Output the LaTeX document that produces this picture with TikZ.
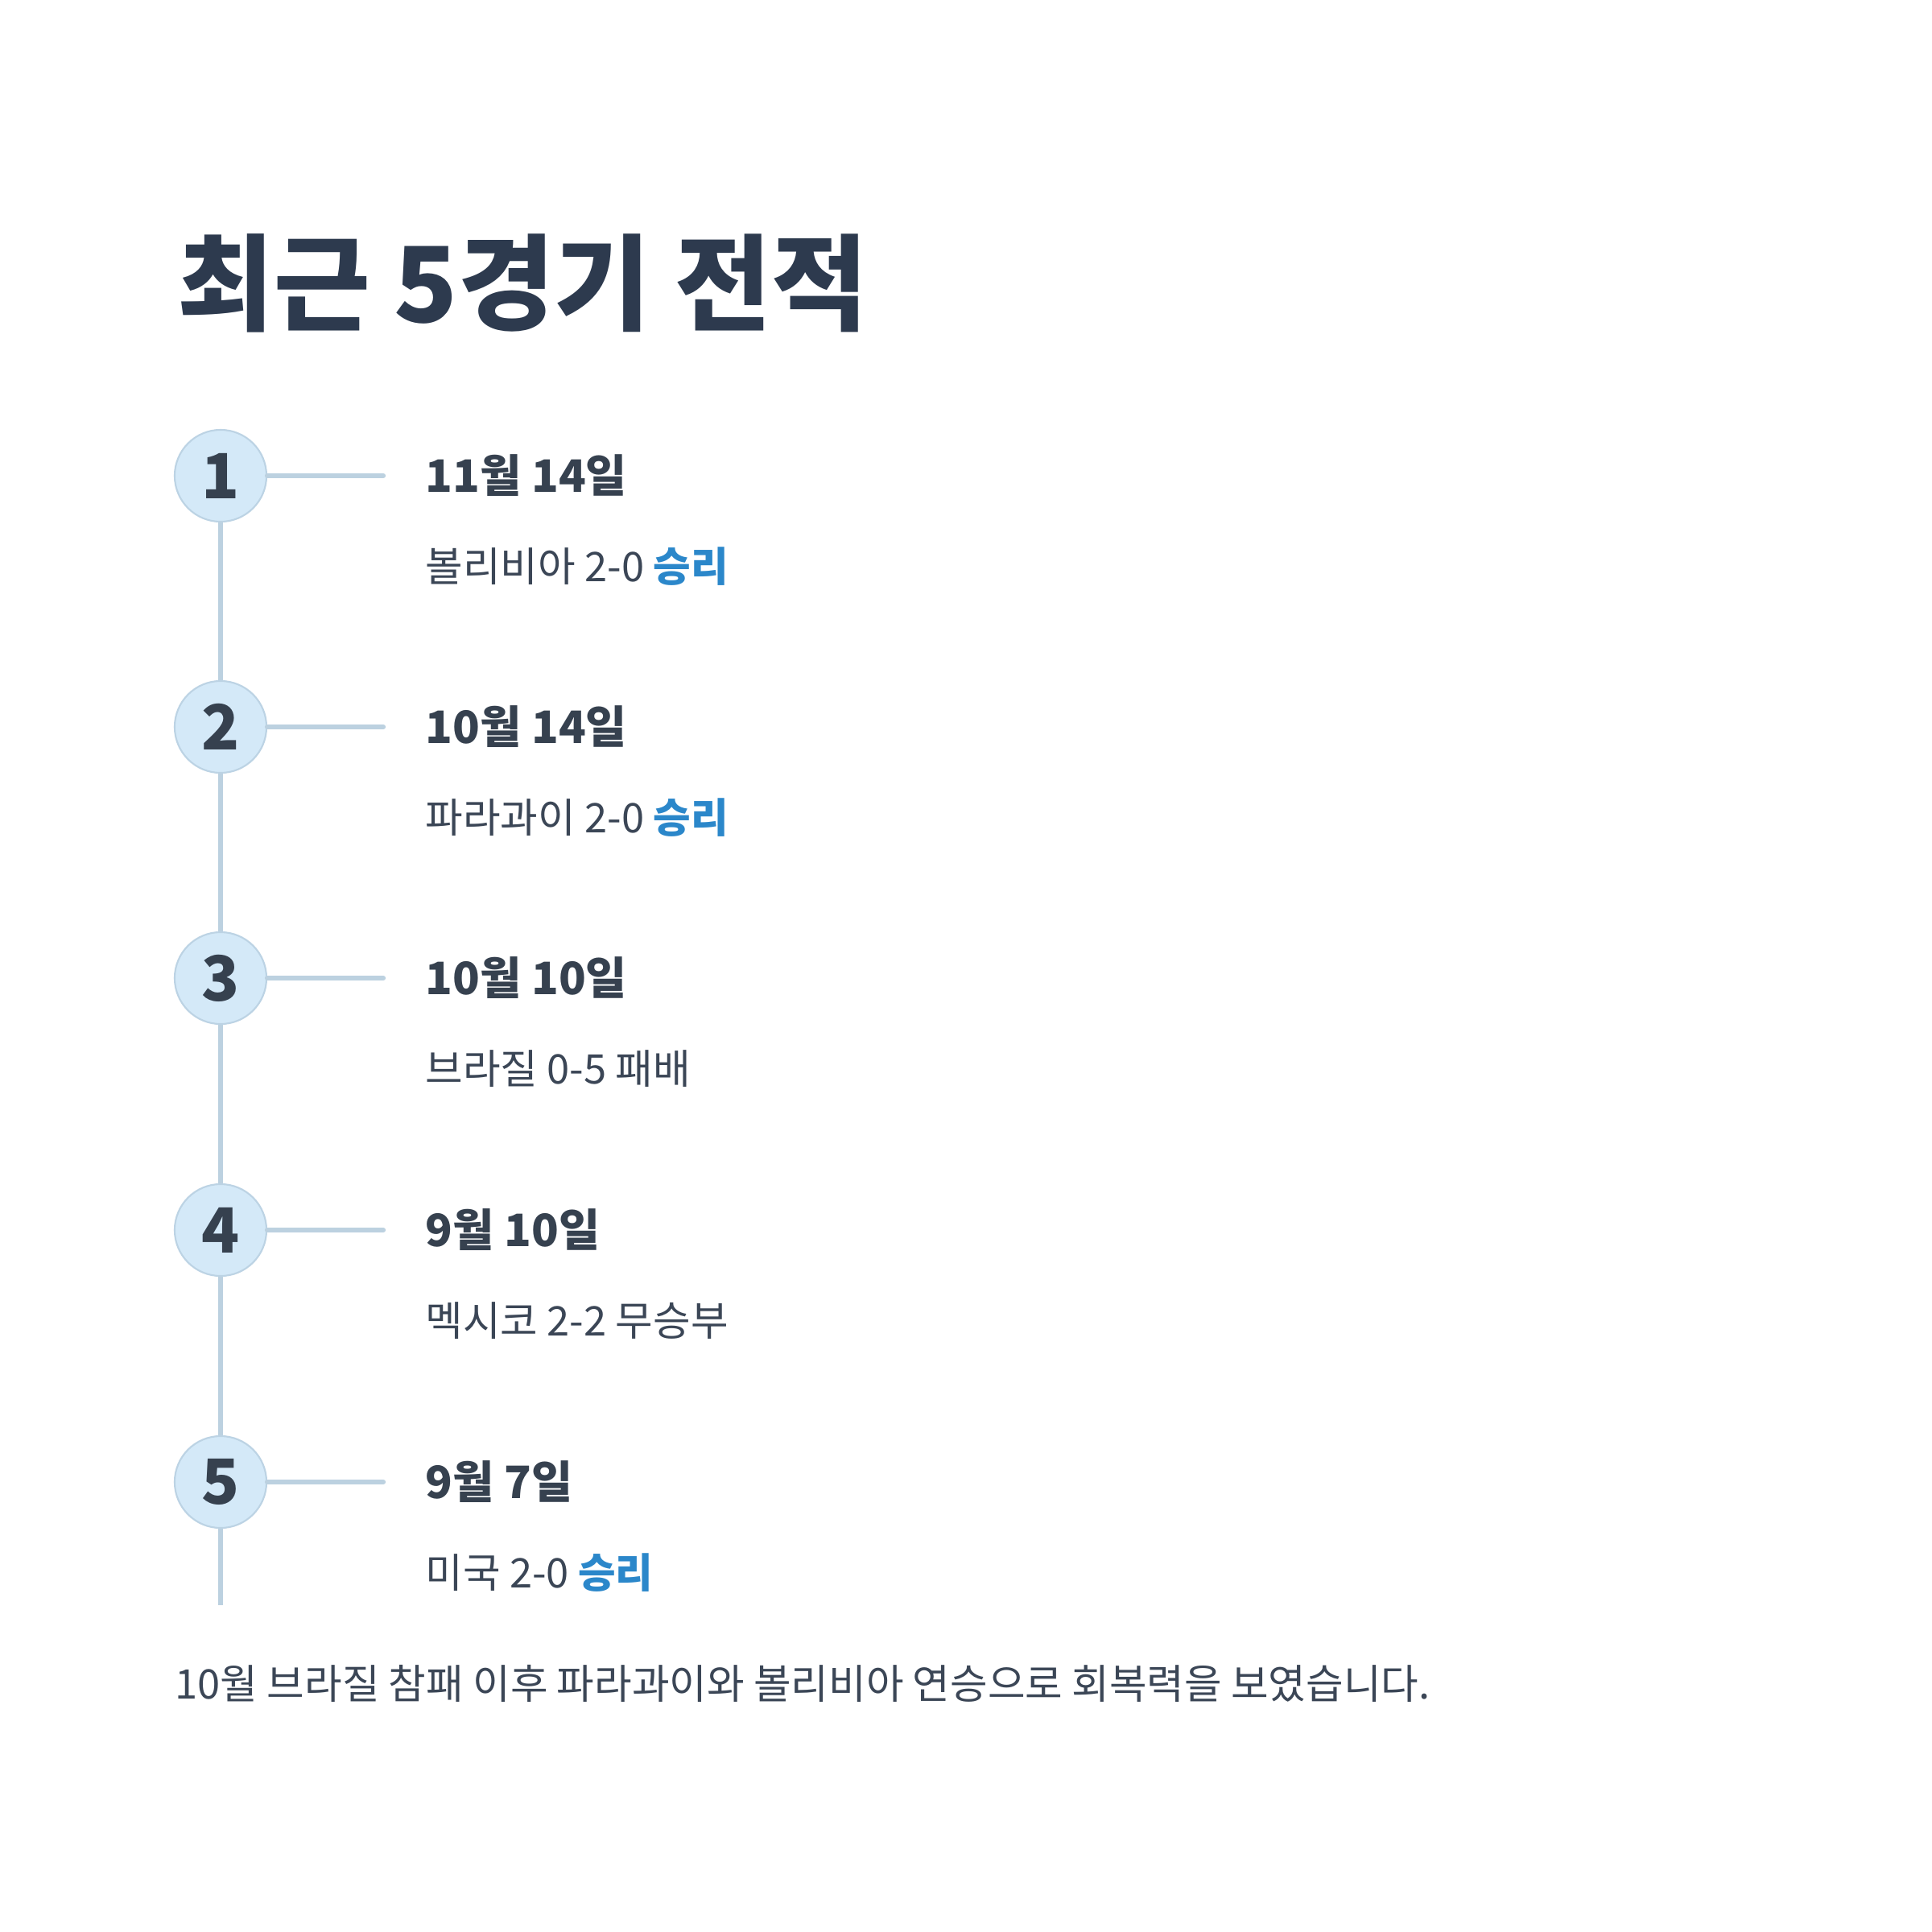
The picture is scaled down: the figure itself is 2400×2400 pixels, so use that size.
\documentclass[tikz,border=0pt]{standalone}
\usepackage{fontspec}
\setmainfont{Noto Sans CJK KR}
\usetikzlibrary{positioning}

\definecolor{titleink}{HTML}{2D3A4E}
\definecolor{dateink}{HTML}{36414F}
\definecolor{bodyink}{HTML}{3B4656}
\definecolor{winblue}{HTML}{2B87CA}
\definecolor{ringfill}{HTML}{D4E9F8}
\definecolor{ringline}{HTML}{BCD3E4}
\definecolor{railline}{HTML}{BCD1E0}

\begin{document}
\begin{tikzpicture}[
        x=0.01cm, y=-0.01cm,
        num/.style={circle, draw=ringline, line width=0.6pt, fill=ringfill,
          minimum size=1.14cm, inner sep=0pt, text=dateink,
          font=\fontsize{22}{24}\selectfont\bfseries},
        datetxt/.style={anchor=west, inner sep=0pt, text=dateink,
          font=\fontsize{15.8}{18}\selectfont\bfseries},
        restxt/.style={anchor=west, inner sep=0pt, text=bodyink,
          font=\fontsize{14.4}{16}\selectfont},
        link/.style={railline, line width=1.8pt, line cap=round},
        rail/.style={railline, line width=1.5pt}]

  \useasboundingbox[fill=white] (0,0) rectangle (2400,2400);

  % title ---------------------------------------------------
  \node[anchor=west, inner sep=0pt, text=titleink,
        font=\fontsize{37}{42}\selectfont\bfseries]
        (title) at (220,352) {최근 5경기 전적};

  % rail ----------------------------------------------------
  \node[num] (n1) at (274,591)  {1};
  \node[num] (n2) at (274,903)  {2};
  \node[num] (n3) at (274,1215) {3};
  \node[num] (n4) at (274,1528) {4};
  \node[num] (n5) at (274,1841) {5};
  \coordinate (tail) at (274,1994);

  \draw[rail] (n1.south) -- (n2.north);
  \draw[rail] (n2.south) -- (n3.north);
  \draw[rail] (n3.south) -- (n4.north);
  \draw[rail] (n4.south) -- (n5.north);
  \draw[rail] (n5.south) -- (tail);

  % matches -------------------------------------------------
  \node[datetxt] (d1) at (528,591)  {11월 14일};
  \node[restxt]  (r1) at (528,704)  {볼리비아 2-0 {\color{winblue}\bfseries 승리}};
  \node[datetxt] (d2) at (528,903)  {10월 14일};
  \node[restxt]  (r2) at (528,1016) {파라과이 2-0 {\color{winblue}\bfseries 승리}};
  \node[datetxt] (d3) at (528,1215) {10월 10일};
  \node[restxt]  (r3) at (528,1328) {브라질 0-5 패배};
  \node[datetxt] (d4) at (528,1528) {9월 10일};
  \node[restxt]  (r4) at (528,1641) {멕시코 2-2 무승부};
  \node[datetxt] (d5) at (528,1841) {9월 7일};
  \node[restxt]  (r5) at (528,1954) {미국 2-0 {\color{winblue}\bfseries 승리}};

  \foreach \k in {1,...,5} {
    \coordinate (e\k) at (476,0 |- n\k);
    \draw[link] (n\k.east) -- (e\k);
  }

  % summary -------------------------------------------------
  \node[restxt] (note) at (217,2091)
        {10월 브라질 참패 이후 파라과이와 볼리비아 연승으로 회복력을 보였습니다.};

\end{tikzpicture}
\end{document}
